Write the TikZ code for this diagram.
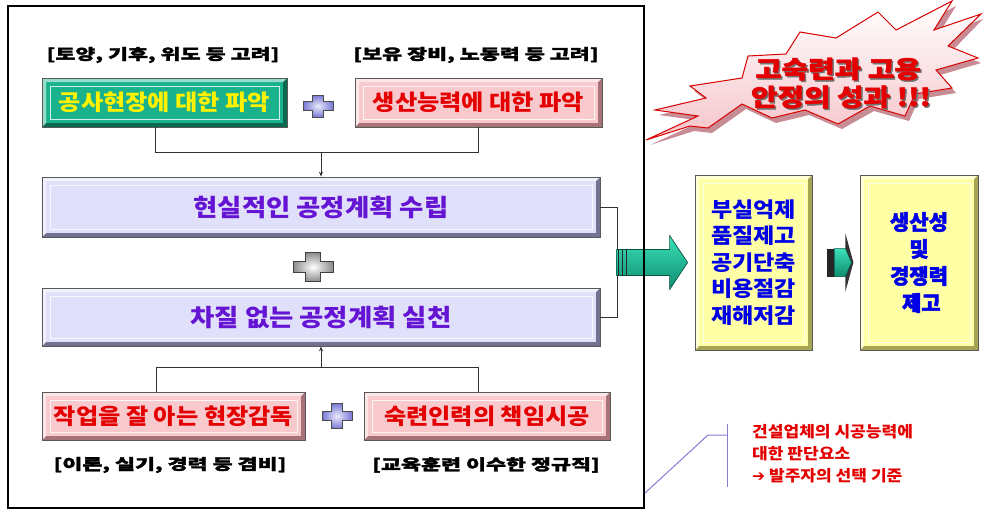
\documentclass[tikz,border=0pt]{standalone}
\usepackage{fontspec}
\setmainfont{Noto Sans CJK KR}
\newfontfamily\krbox[FakeStretch=1.1]{Noto Sans CJK KR}
\newfontfamily\krwide[FakeStretch=1.45,FakeBold=2]{Noto Sans CJK KR}
\newfontfamily\krburst[FakeStretch=1.2,FakeBold=2]{Noto Sans CJK KR}
\newfontfamily\krheavy[FakeBold=2]{Noto Sans CJK KR}
\newfontfamily\symfont{DejaVu Sans}
\usetikzlibrary{arrows.meta,calc}
\definecolor{grnF}{RGB}{26,178,140}
\definecolor{grnD}{RGB}{10,105,80}
\definecolor{pnkF}{RGB}{248,202,206}
\definecolor{pnkD}{RGB}{165,115,120}
\definecolor{bluF}{RGB}{224,224,250}
\definecolor{bluD}{RGB}{115,115,145}
\definecolor{ylwF}{RGB}{255,255,165}
\definecolor{ylwD}{RGB}{165,165,85}
\definecolor{txtRed}{RGB}{228,0,0}
\definecolor{txtPur}{RGB}{100,20,210}
\definecolor{txtBlu}{RGB}{0,0,230}
\definecolor{burstF}{RGB}{246,196,202}
\definecolor{burstS}{RGB}{200,140,148}
\definecolor{noteLine}{RGB}{140,120,210}
\definecolor{teal1}{RGB}{60,225,185}
\definecolor{teal2}{RGB}{12,140,110}
\definecolor{plusP}{RGB}{120,120,215}
\tikzset{
  bevel/.style={path picture={
    \path (path picture bounding box.south west) coordinate (@sw)
          (path picture bounding box.north east) coordinate (@ne)
          (path picture bounding box.north west) coordinate (@nw)
          (path picture bounding box.south east) coordinate (@se);
    \fill[#1] (@sw) -- (@se) -- (@ne) -- ([shift={(-4pt,-4pt)}]@ne)
          -- ([shift={(-4pt,4pt)}]@se) -- ([shift={(4pt,4pt)}]@sw) -- cycle;
    \fill[white,opacity=.55] (@sw) -- (@nw) -- (@ne) -- ([shift={(-4pt,-4pt)}]@ne)
          -- ([shift={(4pt,-4pt)}]@nw) -- ([shift={(4pt,4pt)}]@sw) -- cycle;
    \draw[white,opacity=.8,line width=.8pt] ([shift={(8pt,8pt)}]@sw) rectangle ([shift={(-8pt,-8pt)}]@ne);
  }},
  box/.style={rectangle, draw=black!65, line width=.8pt, inner sep=0pt, bevel=#1},
  boxtxt/.style={font={\krbox\bfseries\fontsize{22}{25}\selectfont}},
  bluetxt/.style={font={\krbox\bfseries\fontsize{24}{28}\selectfont}, text=txtPur},
  brtxt/.style={font={\krwide\bfseries\fontsize{15}{18}\selectfont}, text=black},
  bursttxt/.style={font={\krburst\bfseries\fontsize{24}{28}\selectfont}},
  conn/.style={draw=black!80, line width=.9pt},
  tipd/.style={-{Stealth[length=5pt,width=4pt]}},
  crossicon/.pic={
    \path[pic actions] (-1,-.38) -- (-.38,-.38) -- (-.38,-1) -- (.38,-1) -- (.38,-.38)
      -- (1,-.38) -- (1,.38) -- (.38,.38) -- (.38,1) -- (-.38,1) -- (-.38,.38) -- (-1,.38) -- cycle;
  },
}
\begin{document}
\begin{tikzpicture}[x=1pt,y=-1pt]
\useasboundingbox (0,0) rectangle (983,512);
\fill[white] (0,0) rectangle (983,512);

% starburst
\path[fill=burstS] (650,145) -- (702,121) -- (659,115) -- (710,103) -- (694,91) -- (746,83) -- (752,61) -- (790,59) -- (804,37) -- (840,43) -- (882,17) -- (900,35) -- (956,6) -- (938,35) -- (983,19) -- (952,51) -- (981,63) -- (940,75) -- (956,93) -- (919,99) -- (909,121) -- (874,111) -- (842,129) -- (809,115) -- (776,123) -- (746,109) -- (712,133) -- (694,131) -- cycle;
\path[draw=red!85!black, line width=1pt, top color=white, bottom color=burstF] (646,140) -- (698,116) -- (655,110) -- (706,98) -- (690,86) -- (742,78) -- (748,56) -- (786,54) -- (800,32) -- (836,38) -- (878,12) -- (896,30) -- (952,1) -- (934,30) -- (981,14) -- (948,46) -- (978,58) -- (936,70) -- (952,88) -- (915,94) -- (905,116) -- (870,106) -- (838,124) -- (805,110) -- (772,118) -- (742,104) -- (708,128) -- (690,126) -- cycle;
\node[bursttxt, text=black!55] (s1s) at (839.5,70.5) {고숙련과 고용};
\node[bursttxt, text=black!55] (s2s) at (842.5,98.5) {안정의 성과 !!!};
\node[bursttxt, text=txtRed] (s1) at (838,69) {고숙련과 고용};
\node[bursttxt, text=txtRed] (s2) at (841,97) {안정의 성과 !!!};

% bracket texts
\node[brtxt] (t1) at (163,55) {[토양, 기후, 위도 등 고려]};
\node[brtxt] (t2) at (476,55) {[보유 장비, 노동력 등 고려]};
\node[brtxt] (t3) at (170,465) {[이론, 실기, 경력 등 겸비]};
\node[brtxt] (t4) at (486,465) {[교육훈련 이수한 정규직]};

% top boxes
\node[box=grnD, fill=grnF, minimum width=245, minimum height=49, boxtxt, text=yellow] (g1) at (164.5,102.5) {공사현장에 대한 파악};
\node[box=pnkD, fill=pnkF, minimum width=247, minimum height=49, boxtxt, text=txtRed] (p1) at (478.5,102.5) {생산능력에 대한 파악};
\pic[draw=black!70, line width=.8pt, shade, inner color=white!85!plusP, outer color=plusP, xscale=15, yscale=11] (x1) at (318,106) {crossicon};

% main blue boxes
\node[box=bluD, fill=bluF, minimum width=558, minimum height=60, bluetxt] (b1) at (321,207) {현실적인 공정계획 수립};
\pic[draw=black!75, line width=.8pt, shade, inner color=white, outer color=black!45, xscale=20, yscale=14.5] (x2) at (313,267) {crossicon};
\node[box=bluD, fill=bluF, minimum width=558, minimum height=58, bluetxt] (b2) at (321,317) {차질 없는 공정계획 실천};

% bottom boxes
\node[box=pnkD, fill=pnkF, minimum width=263, minimum height=48, boxtxt, text=txtRed] (q1) at (173.5,416) {작업을 잘 아는 현장감독};
\node[box=pnkD, fill=pnkF, minimum width=246, minimum height=48, boxtxt, text=txtRed] (q2) at (487,416) {숙련인력의 책임시공};
\pic[draw=black!70, line width=.8pt, shade, inner color=white!85!plusP, outer color=plusP, xscale=15, yscale=12.5] (x3) at (337,416) {crossicon};

% connectors
\draw[conn] ([xshift=-9.5pt]g1.south) -- ++(0,25) coordinate (j1) -| (p1.south);
\draw[conn, tipd] (j1 -| b1.north) -- (b1.north);
\draw[conn] ([xshift=-17.5pt]q1.north) -- ++(0,-24) coordinate (j2) -| ([xshift=-9pt]q2.north);
\draw[conn, tipd] (j2 -| b2.south) -- (b2.south);
\draw[conn] (b1.east) -- ++(17,0) coordinate (br1) |- (b2.east);

% yellow result boxes
\node[box=ylwD, fill=ylwF, minimum width=117, minimum height=175, align=center, text=txtBlu,
      font={\krbox\bfseries\fontsize{21}{26.5}\selectfont}] (y1) at (753.5,262.5) {부실억제\\품질제고\\공기단축\\비용절감\\재해저감};
\node[box=ylwD, fill=ylwF, minimum width=118, minimum height=175, align=center, text=txtBlu,
      font={\krheavy\bfseries\fontsize{21}{27}\selectfont}] (y2) at (919,262.5) {생산성\\및\\경쟁력\\\ 제고};

% big arrow
\coordinate (ba) at ([xshift=-78pt]y1.west);
\draw[draw=teal2!60!black, line width=.7pt, top color=teal1, bottom color=teal2]
  (ba) ++(0,-13) -- ++(53,0) -- ++(0,-14) -- ++(18,27) -- ++(-18,27) -- ++(0,-14) -- ++(-53,0) -- cycle;
\foreach \dx in {2,6,10} \draw[black!85, line width=1.6pt] ([xshift=\dx pt]ba) ++(0,-13) -- ++(0,26);

% small arrow
\coordinate (sa) at ([xshift=15pt]y1.east);
\fill[black!80] ([xshift=18pt]sa) ++(0,-29) -- ++(8,29) -- ++(-8,29) -- cycle;
\fill[black!85] (sa) ++(0,-14) rectangle ++(7,28);
\draw[draw=teal2!60!black, line width=.5pt, top color=teal1, bottom color=teal2]
  ([xshift=7pt]sa) ++(0,-14) -- ++(11,0) -- ++(6,14) -- ++(-6,14) -- ++(-11,0) -- cycle;

% frame
\draw[line width=2pt, black] (8,6) rectangle (644,508);

% note
\node[anchor=north west, align=left, inner sep=0pt, text=txtRed,
      font={\krbox\bfseries\fontsize{15.5}{22}\selectfont}] (note) at (752,424)
      {건설업체의 시공능력에\\대한 판단요소\\{\symfont ➔} 발주자의 선택 기준};
\coordinate (nl) at ([xshift=-25pt]note.north west);
\coordinate (nf) at (645,493);
\draw[noteLine, line width=1pt] (nl) -- ++(0,63);
\draw[noteLine, line width=1pt] ([yshift=-11pt]nl) -- ++(-19,0) -- (nf);
\end{tikzpicture}
\end{document}
